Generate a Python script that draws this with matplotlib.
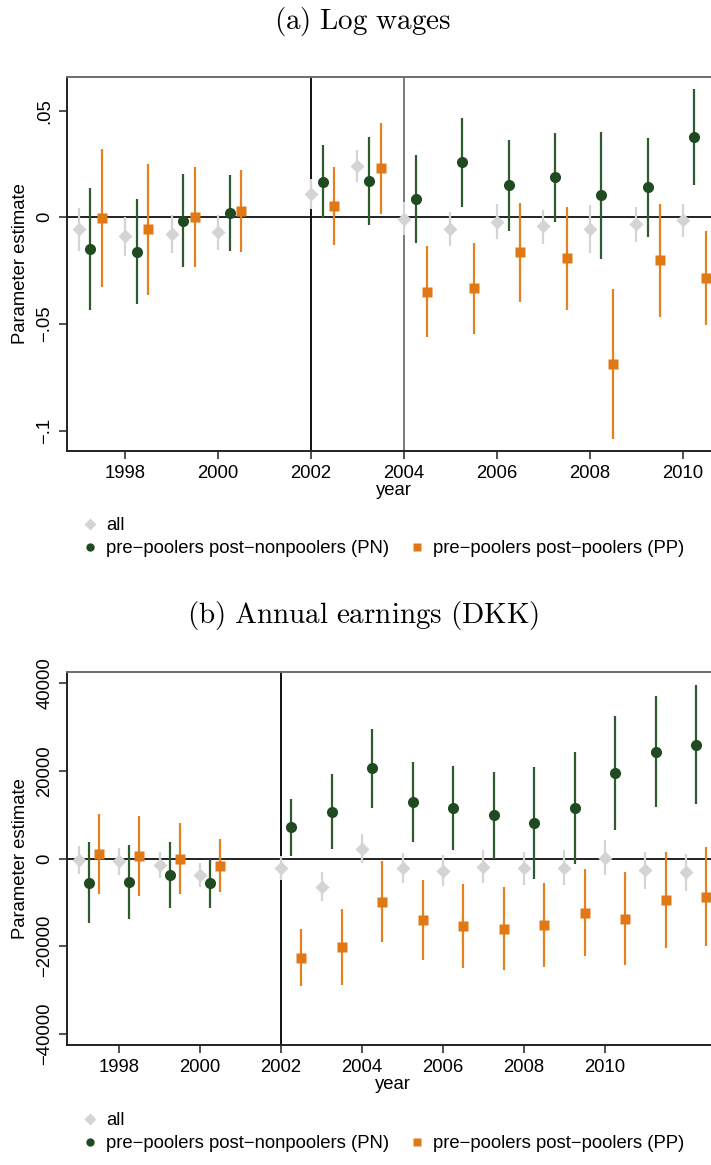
import matplotlib
matplotlib.use("Agg")
import matplotlib.pyplot as plt
from matplotlib.lines import Line2D

plt.rcParams['font.family'] = ['Liberation Sans', 'DejaVu Sans']
plt.rcParams['mathtext.fontset'] = 'cm'

# ---------------- data: (a) log wages ----------------
years_a = [1997, 1998, 1999, 2000, 2002, 2003, 2004, 2005, 2006, 2007, 2008, 2009, 2010]
wage_all = [-0.0056, -0.0088, -0.0078, -0.0070, 0.0108, 0.0241, -0.0006, -0.0056, -0.0020, -0.0041, -0.0056, -0.0031, -0.0014]
wage_all_lo = [-0.0156, -0.0180, -0.0166, -0.0152, 0.0038, 0.0164, -0.0083, -0.0136, -0.0102, -0.0123, -0.0169, -0.0114, -0.0094]
wage_all_hi = [0.0044, 0.0003, 0.0009, 0.0009, 0.0178, 0.0317, 0.0072, 0.0023, 0.0061, 0.0036, 0.0056, 0.0050, 0.0064]
wage_pn = [-0.0150, -0.0163, -0.0016, 0.0020, 0.0166, 0.0170, 0.0086, 0.0258, 0.0150, 0.0188, 0.0103, 0.0141, 0.0378]
wage_pn_lo = [-0.0436, -0.0408, -0.0234, -0.0156, -0.0005, -0.0036, -0.0120, 0.0050, -0.0063, -0.0020, -0.0194, -0.0091, 0.0153]
wage_pn_hi = [0.0138, 0.0084, 0.0203, 0.0197, 0.0338, 0.0375, 0.0290, 0.0464, 0.0361, 0.0394, 0.0398, 0.0370, 0.0600]
wage_pp = [-0.0003, -0.0056, 0.0002, 0.0030, 0.0053, 0.0230, -0.0348, -0.0333, -0.0164, -0.0192, -0.0686, -0.0202, -0.0284]
wage_pp_lo = [-0.0325, -0.0363, -0.0233, -0.0161, -0.0131, 0.0017, -0.0561, -0.0548, -0.0398, -0.0433, -0.1038, -0.0469, -0.0503]
wage_pp_hi = [0.0319, 0.0250, 0.0234, 0.0222, 0.0238, 0.0442, -0.0136, -0.0119, 0.0067, 0.0048, -0.0336, 0.0064, -0.0066]
wage_yticks = [-0.1, -0.05, 0, 0.05]
wage_yticklabels = ['\u2212.1', '\u2212.05', '0', '.05']

# ---------------- data: (b) annual earnings ----------------
years_b = [1997, 1998, 1999, 2000, 2002, 2003, 2004, 2005, 2006, 2007, 2008, 2009, 2010, 2011, 2012]
earn_all = [-300, -600, -1450, -3800, -2200, -6400, 2300, -2050, -2800, -1900, -2200, -2050, 230, -2650, -3100]
earn_all_lo = [-3400, -3650, -4400, -6550, -4950, -9600, -1050, -5500, -6300, -5650, -5950, -5950, -3800, -6850, -7400]
earn_all_hi = [2900, 2450, 1600, -900, 700, -2950, 5700, 1300, 750, 1900, 1500, 1900, 4350, 1500, 1050]
earn_pn = [-5550, -5300, -3700, -5550, 7150, 10700, 20600, 12850, 11550, 9900, 8150, 11550, 19550, 24400, 25950]
earn_pn_lo = [-14750, -13850, -11200, -11350, 700, 2300, 11650, 3700, 1900, 0, -4550, -1150, 6600, 11800, 12400]
earn_pn_hi = [3700, 3200, 3900, 0, 13600, 19300, 29650, 22000, 21200, 19700, 20850, 24250, 32450, 37050, 39550]
earn_pp = [1050, 550, -80, -1600, -22600, -20150, -9800, -13900, -15450, -15950, -15150, -12300, -13700, -9450, -8750]
earn_pp_lo = [-8150, -8450, -8000, -7700, -29000, -28750, -19100, -23050, -25000, -25500, -24650, -22200, -24350, -20400, -19950]
earn_pp_hi = [10250, 9650, 8050, 4500, -16100, -11550, -600, -4800, -5850, -6550, -5650, -2450, -3100, 1600, 2600]
earn_yticks = [-40000, -20000, 0, 20000, 40000]
earn_yticklabels = ['\u221240000', '\u221220000', '0', '20000', '40000']

xticks = [1998, 2000, 2002, 2004, 2006, 2008, 2010]
labels = ['all', 'pre\u2212poolers post\u2212nonpoolers (PN)', 'pre\u2212poolers post\u2212poolers (PP)']

C_ALL = '#d4d4d4'
C_PN_M = '#1f4a22'
C_PN_L = '#2f5a2d'
C_PP_M = '#e07816'
C_PP_L = '#e5821f'

W, H = 711, 1165
fig = plt.figure(figsize=(W / 100, H / 100), dpi=100)


def panel(rect, years, a, alo, ahi, pn, pnlo, pnhi, pp, pplo, pphi,
          xlim, ylim, yticks, yticklabels, vlines):
    ax = fig.add_axes(rect)
    ax.axhline(0, color='#111111', lw=1.3, zorder=1)
    for xv, col in vlines:
        ax.axvline(xv, color=col, lw=1.4, zorder=1)
    xa = [y for y in years]
    xn = [y + 0.25 for y in years]
    xp = [y + 0.5 for y in years]
    ax.vlines(xa, alo, ahi, color=C_ALL, lw=1.6, zorder=2)
    h1, = ax.plot(xa, a, 'D', color=C_ALL, ms=7.5, mec='none', zorder=3, label=labels[0])
    ax.vlines(xn, pnlo, pnhi, color=C_PN_L, lw=1.6, zorder=2)
    h2, = ax.plot(xn, pn, 'o', color=C_PN_M, ms=8, mec='none', zorder=3, label=labels[1])
    ax.vlines(xp, pplo, pphi, color=C_PP_L, lw=1.6, zorder=2)
    h3, = ax.plot(xp, pp, 's', color=C_PP_M, ms=7, mec='none', zorder=3, label=labels[2])
    ax.set_xlim(*xlim)
    ax.set_ylim(*ylim)
    ax.set_xticks(xticks)
    ax.set_xticklabels([str(t) for t in xticks], fontsize=13.3)
    ax.set_yticks(yticks)
    ax.set_yticklabels(yticklabels, fontsize=13.3, rotation=90, va='center')
    ax.tick_params(direction='out', length=6, width=1.1, color='#222222', pad=4)
    ax.spines['left'].set_color('#222222')
    ax.spines['bottom'].set_color('#222222')
    ax.spines['left'].set_linewidth(1.4)
    ax.spines['bottom'].set_linewidth(1.4)
    ax.spines['top'].set_color('#6e6e6e')
    ax.spines['top'].set_linewidth(1.4)
    ax.spines['right'].set_visible(False)
    ax.set_xlabel('year', fontsize=13.3, labelpad=0)
    ax.set_ylabel('Parameter estimate', fontsize=13.3, labelpad=5)
    return ax, (h1, h2, h3)


# (a)
ax1, hs = panel([67 / W, 1 - 451 / H, 653 / W, 374 / H], years_a,
                wage_all, wage_all_lo, wage_all_hi, wage_pn, wage_pn_lo, wage_pn_hi,
                wage_pp, wage_pp_lo, wage_pp_hi,
                (1996.75, 2010.8), (-0.1096, 0.0658), wage_yticks, wage_yticklabels,
                [(2002, '#111111'), (2004, '#7a7a7a')])
fig.text(363 / W, 1 - 22 / H, r'$\mathrm{(a)\ Log\ wages}$', fontsize=21, ha='center', va='center')

# (b)
ax2, hs2 = panel([67.3 / W, 1 - 1045.3 / H, 651 / W, 373.3 / H], years_b,
                 earn_all, earn_all_lo, earn_all_hi, earn_pn, earn_pn_lo, earn_pn_hi,
                 earn_pp, earn_pp_lo, earn_pp_hi,
                 (1996.72, 2012.8), (-42600, 42600), earn_yticks, earn_yticklabels,
                 [(2002, '#111111')])
fig.text(363 / W, 1 - 616 / H, r'$\mathrm{(b)\ Annual\ earnings\ (DKK)}$', fontsize=21, ha='center', va='center')

blank = Line2D([], [], linestyle='none', marker=None)
for hh, ytop in ((hs, 517), (hs2, 1112)):
    leg = fig.legend([hh[0], hh[1], blank, hh[2]], [labels[0], labels[1], '', labels[2]],
                     ncol=2, loc='upper left', bbox_to_anchor=(83 / W, 1 - ytop / H),
                     frameon=False, fontsize=13.3, handlelength=0.8, handletextpad=0.45,
                     columnspacing=1.1, labelspacing=0.35, borderpad=0, borderaxespad=0,
                     markerscale=0.75)

fig.savefig('out.png', dpi=100)
